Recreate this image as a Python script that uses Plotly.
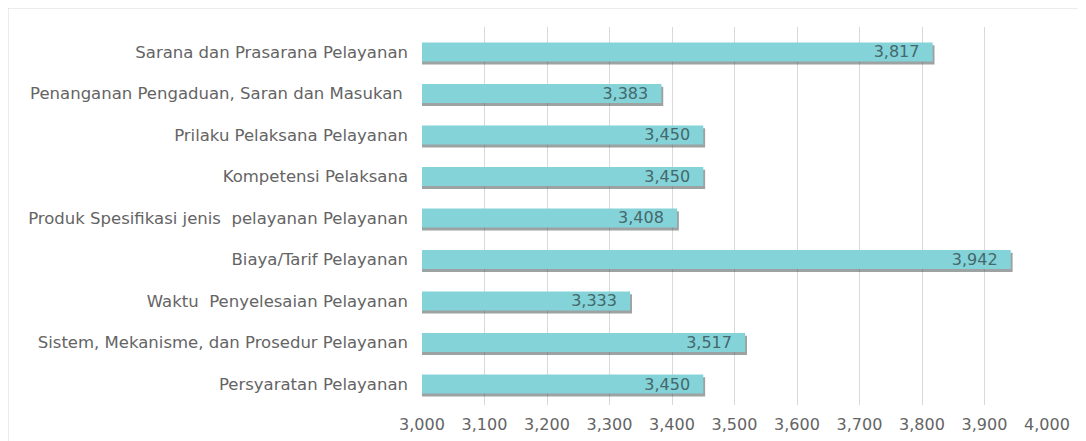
import plotly.graph_objects as go

categories = [
    "Persyaratan Pelayanan",
    "Sistem, Mekanisme, dan Prosedur Pelayanan",
    "Waktu \u00a0Penyelesaian Pelayanan",
    "Biaya/Tarif Pelayanan",
    "Produk Spesifikasi jenis \u00a0pelayanan Pelayanan",
    "Kompetensi Pelaksana",
    "Prilaku Pelaksana Pelayanan",
    "Penanganan Pengaduan, Saran dan Masukan\u00a0",
    "Sarana dan Prasarana Pelayanan",
]
values = [3.450, 3.517, 3.333, 3.942, 3.408, 3.450, 3.450, 3.383, 3.817]
tick_vals = [3.0, 3.1, 3.2, 3.3, 3.4, 3.5, 3.6, 3.7, 3.8, 3.9, 4.0]

FONT = "DejaVu Sans, Verdana, sans-serif"
# the page body adds an 8px offset, so margins are shifted accordingly
L, R, T, B = 414, 47, 19, 44
W, H = 1086, 441
PW, PH = W - L - R, H - T - B

def fmt(v):
    return f"{v:.3f}".replace(".", ",")

fig = go.Figure()
# soft shadow under bars
fig.add_trace(go.Bar(
    y=categories, x=[v - 3.0 + 0.003 for v in values], base=3.0,
    orientation="h", width=0.46, offset=-0.30,
    marker=dict(color="rgba(60,70,70,0.5)", line=dict(width=0)),
    hoverinfo="skip", showlegend=False,
))
fig.add_trace(go.Bar(
    y=categories, x=[v - 3.0 for v in values], base=3.0,
    orientation="h", width=0.46, offset=-0.23,
    marker=dict(color="#84d3d9", line=dict(width=0)),
    text=[fmt(v) + "\u00a0\u00a0" for v in values],
    textposition="inside", insidetextanchor="end", constraintext="none",
    textfont=dict(family=FONT, size=16, color="#45686b"),
    showlegend=False,
))

fig.update_layout(
    width=W, height=H,
    barmode="overlay",
    margin=dict(l=L, r=R, t=T, b=B, autoexpand=False),
    paper_bgcolor="white", plot_bgcolor="white",
    font=dict(family=FONT, size=16, color="#646464"),
    xaxis=dict(
        range=[3.0, 4.0], tickvals=tick_vals,
        ticktext=[fmt(t) for t in tick_vals],
        showgrid=True, gridcolor="#d9d9d9", gridwidth=1,
        zeroline=False, showline=False, ticks="", automargin=False,
        ticklabelstandoff=8,
        tickfont=dict(size=16, color="#646464"),
    ),
    yaxis=dict(
        range=[-0.506, 8.602],
        showgrid=False, zeroline=False, showline=False, ticks="", automargin=False,
        ticklabelstandoff=13,
        tickfont=dict(size=16.5, color="#646464"),
    ),
    shapes=[dict(type="rect", xref="paper", yref="paper",
                 x0=(0 - L) / PW, x1=1 + 80 / PW, y0=-0.3, y1=1 + T / PH,
                 line=dict(color="#d9d9d9", width=1), layer="below")],
)

fig.write_html("out.html")
